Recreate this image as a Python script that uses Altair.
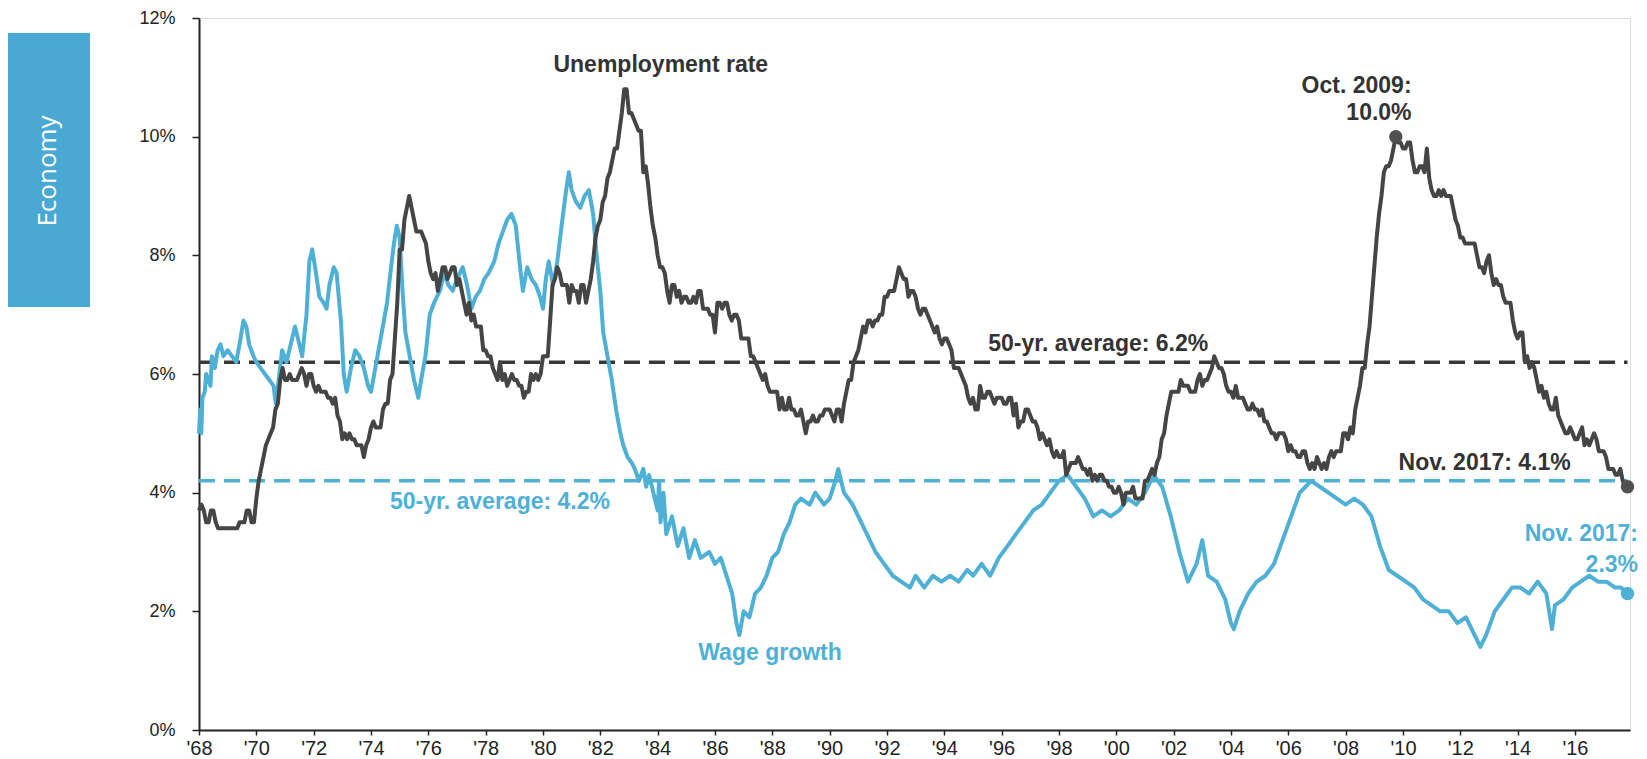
import altair as alt
import pandas as pd

# ---------------- data ----------------
START_YEAR = 1968
# US unemployment rate, monthly, Jan 1968 - Nov 2017 (%)
unemployment = [
    [3.7, 3.8, 3.7, 3.5, 3.5, 3.7, 3.7, 3.5, 3.4, 3.4, 3.4, 3.4],
    [3.4, 3.4, 3.4, 3.4, 3.4, 3.5, 3.5, 3.5, 3.7, 3.7, 3.5, 3.5],
    [3.9, 4.2, 4.4, 4.6, 4.8, 4.9, 5.0, 5.1, 5.4, 5.5, 5.9, 6.1],
    [5.9, 5.9, 6.0, 5.9, 5.9, 5.9, 6.0, 6.1, 6.0, 5.8, 6.0, 6.0],
    [5.8, 5.7, 5.8, 5.7, 5.7, 5.7, 5.6, 5.6, 5.5, 5.6, 5.3, 5.2],
    [4.9, 5.0, 4.9, 5.0, 4.9, 4.9, 4.8, 4.8, 4.8, 4.6, 4.8, 4.9],
    [5.1, 5.2, 5.1, 5.1, 5.1, 5.4, 5.5, 5.5, 5.9, 6.0, 6.6, 7.2],
    [8.1, 8.1, 8.6, 8.8, 9.0, 8.8, 8.6, 8.4, 8.4, 8.4, 8.3, 8.2],
    [7.9, 7.7, 7.6, 7.7, 7.4, 7.6, 7.8, 7.8, 7.6, 7.7, 7.8, 7.8],
    [7.5, 7.6, 7.4, 7.2, 7.0, 7.2, 6.9, 7.0, 6.8, 6.8, 6.8, 6.4],
    [6.4, 6.3, 6.3, 6.1, 6.0, 5.9, 6.2, 5.9, 6.0, 5.8, 5.9, 6.0],
    [5.9, 5.9, 5.8, 5.8, 5.6, 5.7, 5.7, 6.0, 5.9, 6.0, 5.9, 6.0],
    [6.3, 6.3, 6.3, 6.9, 7.5, 7.6, 7.8, 7.7, 7.5, 7.5, 7.5, 7.2],
    [7.5, 7.4, 7.4, 7.2, 7.5, 7.5, 7.2, 7.4, 7.6, 7.9, 8.3, 8.5],
    [8.6, 8.9, 9.0, 9.3, 9.4, 9.6, 9.8, 9.8, 10.1, 10.4, 10.8, 10.8],
    [10.4, 10.4, 10.3, 10.2, 10.1, 10.1, 9.4, 9.5, 9.2, 8.8, 8.5, 8.3],
    [8.0, 7.8, 7.8, 7.7, 7.4, 7.2, 7.5, 7.5, 7.3, 7.4, 7.2, 7.3],
    [7.3, 7.2, 7.2, 7.3, 7.2, 7.4, 7.4, 7.1, 7.1, 7.1, 7.0, 7.0],
    [6.7, 7.2, 7.2, 7.1, 7.2, 7.2, 7.0, 6.9, 7.0, 7.0, 6.9, 6.6],
    [6.6, 6.6, 6.6, 6.3, 6.3, 6.2, 6.1, 6.0, 5.9, 6.0, 5.8, 5.7],
    [5.7, 5.7, 5.7, 5.4, 5.6, 5.4, 5.4, 5.6, 5.4, 5.4, 5.3, 5.3],
    [5.4, 5.2, 5.0, 5.2, 5.2, 5.3, 5.2, 5.2, 5.3, 5.3, 5.4, 5.4],
    [5.4, 5.3, 5.2, 5.4, 5.4, 5.2, 5.5, 5.7, 5.9, 5.9, 6.2, 6.3],
    [6.4, 6.6, 6.8, 6.7, 6.9, 6.9, 6.8, 6.9, 6.9, 7.0, 7.0, 7.3],
    [7.3, 7.4, 7.4, 7.4, 7.6, 7.8, 7.7, 7.6, 7.6, 7.3, 7.4, 7.4],
    [7.3, 7.1, 7.0, 7.1, 7.1, 7.0, 6.9, 6.8, 6.7, 6.8, 6.6, 6.5],
    [6.6, 6.6, 6.5, 6.4, 6.1, 6.1, 6.1, 6.0, 5.9, 5.8, 5.6, 5.5],
    [5.6, 5.4, 5.4, 5.8, 5.6, 5.6, 5.7, 5.7, 5.6, 5.5, 5.6, 5.6],
    [5.6, 5.5, 5.5, 5.6, 5.6, 5.3, 5.5, 5.1, 5.2, 5.2, 5.4, 5.4],
    [5.3, 5.2, 5.2, 5.1, 4.9, 5.0, 4.9, 4.8, 4.9, 4.7, 4.6, 4.7],
    [4.6, 4.6, 4.7, 4.3, 4.4, 4.5, 4.5, 4.5, 4.6, 4.5, 4.4, 4.4],
    [4.3, 4.4, 4.2, 4.3, 4.2, 4.3, 4.3, 4.2, 4.2, 4.1, 4.1, 4.0],
    [4.0, 4.1, 4.0, 3.8, 4.0, 4.0, 4.0, 4.1, 3.9, 3.9, 3.9, 3.9],
    [4.2, 4.2, 4.3, 4.4, 4.3, 4.5, 4.6, 4.9, 5.0, 5.3, 5.5, 5.7],
    [5.7, 5.7, 5.7, 5.9, 5.8, 5.8, 5.8, 5.7, 5.7, 5.7, 5.9, 6.0],
    [5.8, 5.9, 5.9, 6.0, 6.1, 6.3, 6.2, 6.1, 6.1, 6.0, 5.8, 5.7],
    [5.7, 5.6, 5.8, 5.6, 5.6, 5.6, 5.5, 5.4, 5.4, 5.5, 5.4, 5.4],
    [5.3, 5.4, 5.2, 5.2, 5.1, 5.0, 5.0, 4.9, 5.0, 5.0, 5.0, 4.9],
    [4.7, 4.8, 4.7, 4.7, 4.6, 4.6, 4.7, 4.7, 4.5, 4.4, 4.5, 4.4],
    [4.6, 4.5, 4.4, 4.5, 4.4, 4.6, 4.7, 4.6, 4.7, 4.7, 4.7, 5.0],
    [5.0, 4.9, 5.1, 5.0, 5.4, 5.6, 5.8, 6.1, 6.1, 6.5, 6.8, 7.3],
    [7.8, 8.3, 8.7, 9.0, 9.4, 9.5, 9.5, 9.6, 9.8, 10.0, 9.9, 9.9],
    [9.8, 9.8, 9.9, 9.9, 9.6, 9.4, 9.4, 9.5, 9.5, 9.4, 9.8, 9.3],
    [9.1, 9.0, 9.0, 9.1, 9.0, 9.1, 9.0, 9.0, 9.0, 8.8, 8.6, 8.5],
    [8.3, 8.3, 8.2, 8.2, 8.2, 8.2, 8.2, 8.0, 7.8, 7.8, 7.7, 7.9],
    [8.0, 7.7, 7.5, 7.6, 7.5, 7.5, 7.3, 7.2, 7.2, 7.2, 6.9, 6.7],
    [6.6, 6.7, 6.7, 6.2, 6.3, 6.1, 6.2, 6.1, 5.9, 5.7, 5.8, 5.6],
    [5.7, 5.5, 5.4, 5.4, 5.6, 5.3, 5.2, 5.1, 5.0, 5.0, 5.1, 5.0],
    [4.9, 4.9, 5.0, 5.1, 4.8, 4.9, 4.8, 4.9, 5.0, 4.9, 4.7, 4.7],
    [4.7, 4.6, 4.4, 4.4, 4.4, 4.3, 4.3, 4.4, 4.2, 4.1, 4.1],
]

# Wage growth (y/y %)
wage_years = [
    1968.00, 1968.04, 1968.08, 1968.12, 1968.20, 1968.25, 1968.33, 1968.40, 1968.45, 1968.55,
    1968.65, 1968.75, 1968.85, 1969.00, 1969.15, 1969.30, 1969.45, 1969.55, 1969.65, 1969.75,
    1969.90, 1970.00, 1970.15, 1970.30, 1970.45, 1970.60, 1970.68, 1970.78, 1970.90, 1971.05,
    1971.20, 1971.35, 1971.45, 1971.60, 1971.75, 1971.85, 1971.95, 1972.05, 1972.20, 1972.35,
    1972.45, 1972.55, 1972.70, 1972.80, 1972.95, 1973.05, 1973.15, 1973.30, 1973.45, 1973.60,
    1973.75, 1973.90, 1974.00, 1974.15, 1974.30, 1974.45, 1974.56, 1974.70, 1974.80, 1974.90,
    1975.00, 1975.10, 1975.20, 1975.35, 1975.50, 1975.65, 1975.75, 1975.90, 1976.05, 1976.20,
    1976.40, 1976.55, 1976.70, 1976.85, 1977.00, 1977.20, 1977.35, 1977.50, 1977.65, 1977.80,
    1977.95, 1978.10, 1978.30, 1978.45, 1978.60, 1978.75, 1978.90, 1979.05, 1979.20, 1979.30,
    1979.45, 1979.60, 1979.75, 1979.90, 1980.00, 1980.10, 1980.20, 1980.35, 1980.50, 1980.65,
    1980.78, 1980.90, 1981.00, 1981.15, 1981.30, 1981.45, 1981.60, 1981.75, 1981.85, 1982.00,
    1982.10, 1982.25, 1982.40, 1982.55, 1982.70, 1982.80, 1982.95, 1983.10, 1983.20, 1983.35,
    1983.50, 1983.60, 1983.70, 1983.85, 1984.00, 1984.05, 1984.10, 1984.20, 1984.30, 1984.50,
    1984.70, 1984.90, 1985.10, 1985.30, 1985.50, 1985.80, 1986.00, 1986.20, 1986.40, 1986.60,
    1986.75, 1986.85, 1987.00, 1987.20, 1987.40, 1987.60, 1987.80, 1988.00, 1988.20, 1988.40,
    1988.60, 1988.80, 1989.00, 1989.30, 1989.50, 1989.80, 1990.00, 1990.20, 1990.30, 1990.50,
    1990.80, 1991.00, 1991.30, 1991.60, 1991.90, 1992.20, 1992.50, 1992.80, 1993.00, 1993.30,
    1993.60, 1993.90, 1994.20, 1994.50, 1994.80, 1995.00, 1995.30, 1995.60, 1995.90, 1996.20,
    1996.50, 1996.80, 1997.10, 1997.40, 1997.70, 1998.00, 1998.30, 1998.60, 1998.90, 1999.20,
    1999.50, 1999.80, 2000.10, 2000.40, 2000.70, 2001.00, 2001.30, 2001.60, 2001.90, 2002.20,
    2002.50, 2002.80, 2003.00, 2003.20, 2003.50, 2003.80, 2004.00, 2004.10, 2004.30, 2004.60,
    2004.90, 2005.20, 2005.50, 2005.80, 2006.10, 2006.40, 2006.80, 2007.10, 2007.40, 2007.70,
    2008.00, 2008.30, 2008.60, 2008.90, 2009.20, 2009.50, 2009.80, 2010.10, 2010.40, 2010.70,
    2011.00, 2011.30, 2011.60, 2011.90, 2012.20, 2012.50, 2012.70, 2012.90, 2013.20, 2013.50,
    2013.80, 2014.10, 2014.40, 2014.70, 2015.00, 2015.20, 2015.30, 2015.60, 2015.90, 2016.20,
    2016.50, 2016.80, 2017.10, 2017.40, 2017.60, 2017.83,
]
wage_values = [
    5.0, 5.4, 5.0, 5.6, 5.7, 6.0, 5.9, 5.8, 6.3, 6.1,
    6.4, 6.5, 6.3, 6.4, 6.3, 6.2, 6.6, 6.9, 6.8, 6.5,
    6.3, 6.2, 6.1, 6.0, 5.9, 5.8, 5.5, 5.9, 6.4, 6.2,
    6.5, 6.8, 6.6, 6.3, 7.0, 7.9, 8.1, 7.8, 7.3, 7.2,
    7.1, 7.5, 7.8, 7.7, 6.9, 6.0, 5.7, 6.1, 6.4, 6.3,
    6.1, 5.8, 5.7, 6.1, 6.5, 6.9, 7.2, 7.8, 8.2, 8.5,
    8.3, 7.4, 6.7, 6.3, 5.9, 5.6, 5.9, 6.3, 7.0, 7.2,
    7.4, 7.7, 7.5, 7.4, 7.6, 7.8, 7.5, 7.1, 7.3, 7.4,
    7.6, 7.7, 7.9, 8.2, 8.4, 8.6, 8.7, 8.5, 7.8, 7.4,
    7.8, 7.6, 7.5, 7.3, 7.1, 7.6, 7.9, 7.5, 7.9, 8.5,
    9.0, 9.4, 9.1, 8.9, 8.8, 9.0, 9.1, 8.7, 8.1, 7.4,
    6.7, 6.3, 5.9, 5.4, 5.0, 4.8, 4.6, 4.5, 4.4, 4.2,
    4.4, 4.1, 4.3, 4.0, 3.7, 4.2, 3.5, 4.0, 3.3, 3.6,
    3.1, 3.4, 2.9, 3.2, 2.9, 3.0, 2.8, 2.9, 2.6, 2.3,
    1.8, 1.6, 2.0, 1.9, 2.3, 2.4, 2.6, 2.9, 3.0, 3.3,
    3.5, 3.8, 3.9, 3.8, 4.0, 3.8, 3.9, 4.2, 4.4, 4.0,
    3.8, 3.6, 3.3, 3.0, 2.8, 2.6, 2.5, 2.4, 2.6, 2.4,
    2.6, 2.5, 2.6, 2.5, 2.7, 2.6, 2.8, 2.6, 2.9, 3.1,
    3.3, 3.5, 3.7, 3.8, 4.0, 4.2, 4.3, 4.1, 3.9, 3.6,
    3.7, 3.6, 3.7, 3.9, 3.8, 4.0, 4.3, 4.1, 3.6, 3.0,
    2.5, 2.8, 3.2, 2.6, 2.5, 2.2, 1.8, 1.7, 2.0, 2.3,
    2.5, 2.6, 2.8, 3.2, 3.6, 4.0, 4.2, 4.1, 4.0, 3.9,
    3.8, 3.9, 3.8, 3.6, 3.1, 2.7, 2.6, 2.5, 2.4, 2.2,
    2.1, 2.0, 2.0, 1.8, 1.9, 1.6, 1.4, 1.6, 2.0, 2.2,
    2.4, 2.4, 2.3, 2.5, 2.3, 1.7, 2.1, 2.2, 2.4, 2.5,
    2.6, 2.5, 2.5, 2.4, 2.4, 2.3,
]

avg_labels = ["Unemployment rate", "Wage growth"]
avg_values = [6.2, 4.2]

# annotation texts (anchored in data coordinates)
center_text = ["Unemployment rate", "50-yr. average: 6.2%", "Nov. 2017: 4.1%",
               "50-yr. average: 4.2%", "Wage growth"]
center_x = [1984.11, 1999.37, 2012.85, 1978.5, 1987.92]
center_y = [11.21, 6.51, 4.5, 3.84, 1.29]
center_col = ["#333333", "#333333", "#333333", "#4fb0d6", "#4fb0d6"]

right_text = ["Oct. 2009:", "10.0%", "Nov. 2017:", "2.3%"]
right_x = [2010.3, 2010.3, 2018.2, 2018.2]
right_y = [10.86, 10.40, 3.3, 2.78]
right_col = ["#333333", "#333333", "#4fb0d6", "#4fb0d6"]

dot_x = [2009.75, START_YEAR + 49 + 10 / 12, START_YEAR + 49 + 10 / 12]
dot_y = [10.0, 4.1, 2.3]
dot_col = ["#505050", "#505050", "#4fb0d6"]

# ---------------- tables ----------------
ue_rows = []
for yi, row in enumerate(unemployment):
    for mi, v in enumerate(row):
        ue_rows.append({"t": START_YEAR + yi + mi / 12, "v": v})
ue_df = pd.DataFrame(ue_rows)
wage_df = pd.DataFrame({"t": wage_years, "v": wage_values})
avg_df = pd.DataFrame({"series": avg_labels, "v": avg_values,
                       "t": [START_YEAR] * 2, "t1": [START_YEAR + 49 + 10 / 12] * 2})
ctext_df = pd.DataFrame({"label": center_text, "t": center_x, "v": center_y, "c": center_col})
rtext_df = pd.DataFrame({"label": right_text, "t": right_x, "v": right_y, "c": right_col})
dot_df = pd.DataFrame({"t": dot_x, "v": dot_y, "c": dot_col})

FONT = "Liberation Sans"
GRAY = "#454545"
BLUE = "#4fb0d6"

xscale = alt.Scale(domain=[1968, 2017.92], nice=False, zero=False)
yscale = alt.Scale(domain=[0, 12], nice=False, zero=True)

X = alt.X("t:Q", scale=xscale, axis=alt.Axis(
    values=list(range(1968, 2017, 2)),
    labelExpr="\"'\" + substring(toString(datum.value), 2)",
    title=None, grid=False, labelFontSize=20, labelFont=FONT, labelColor="#222",
    domainColor="#222", domainWidth=2, tickColor="#222", tickWidth=1.5, tickSize=5,
    labelPadding=3, labelFlush=False))
Y = alt.Y("v:Q", scale=yscale, axis=alt.Axis(
    values=[0, 2, 4, 6, 8, 10, 12], labelExpr="datum.value + '%'",
    title=None, grid=False, labelFontSize=18, labelFont=FONT, labelColor="#222",
    domainColor="#222", domainWidth=2, tickColor="#222", tickWidth=1.5, tickSize=7,
    labelPadding=17))

avg_rules = alt.Chart(avg_df).mark_rule(strokeWidth=3.5, strokeDash=[16, 9]).encode(
    x=X, x2="t1:Q", y=Y,
    color=alt.Color("series:N", scale=alt.Scale(domain=avg_labels, range=["#383838", BLUE]), legend=None),
)

wage_line = alt.Chart(wage_df).mark_line(color=BLUE, strokeWidth=4, strokeJoin="round").encode(x=X, y=Y)
ue_line = alt.Chart(ue_df).mark_line(color=GRAY, strokeWidth=4, strokeJoin="round").encode(x=X, y=Y)

dots = alt.Chart(dot_df).mark_circle(size=180, opacity=1).encode(
    x=X, y=Y, color=alt.Color("c:N", scale=None))

ctext = alt.Chart(ctext_df).mark_text(font=FONT, fontSize=23, fontWeight="bold",
                                      align="center", baseline="middle").encode(
    x=X, y=Y, text="label:N", color=alt.Color("c:N", scale=None))
rtext = alt.Chart(rtext_df).mark_text(font=FONT, fontSize=23, fontWeight="bold",
                                      align="right", baseline="middle").encode(
    x=X, y=Y, text="label:N", color=alt.Color("c:N", scale=None))

one = pd.DataFrame({"k": [0]})
side_rect = alt.Chart(one).mark_rect(color="#49a9d4").encode(
    x=alt.value(-195), x2=alt.value(-109), y=alt.value(15), y2=alt.value(289))
side_text = alt.Chart(one).mark_text(text="Economy", color="white", font="Open Sans",
                                     fontSize=26, angle=270, align="center",
                                     baseline="middle").encode(
    x=alt.value(-151), y=alt.value(153))

chart = alt.layer(
    side_rect, side_text, avg_rules, wage_line, ue_line, dots, ctext, rtext
).properties(
    width=1431, height=712,
    autosize=alt.AutoSizeParams(type="none"),
    padding={"left": 191, "top": 10, "right": 9, "bottom": 28},
).configure_view(stroke=None).configure(background="white")

chart.save("out.html", embed_options={"renderer": "svg", "actions": False})
